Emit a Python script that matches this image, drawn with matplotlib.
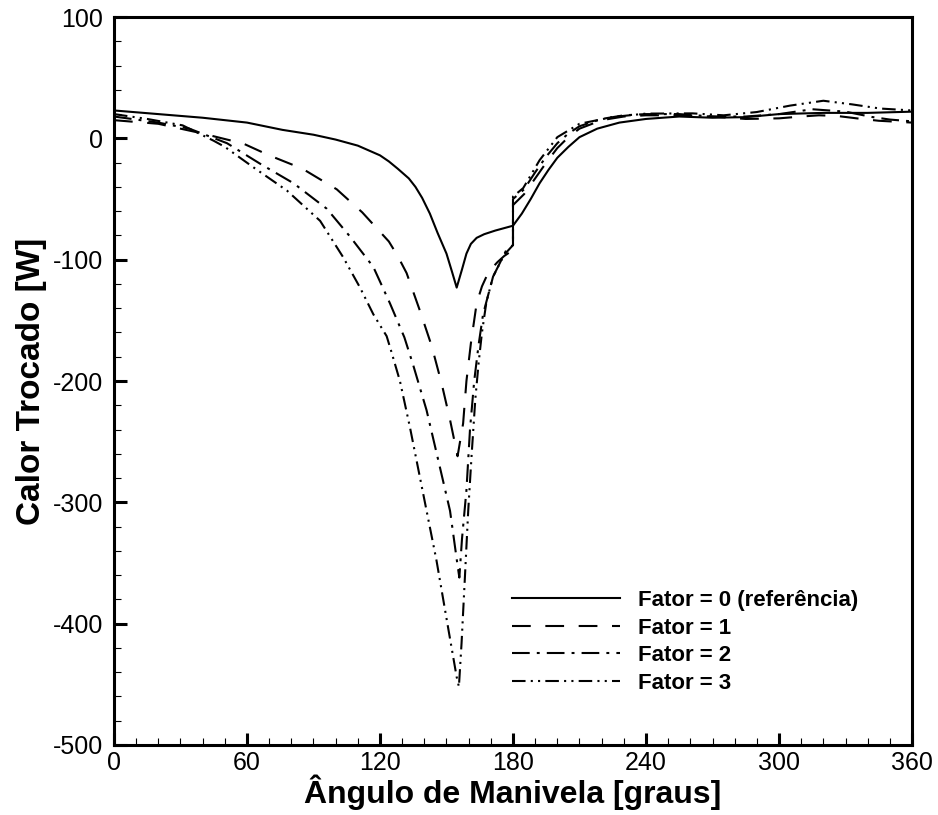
import numpy as np
import matplotlib
matplotlib.use("Agg")
import matplotlib.pyplot as plt
from matplotlib.ticker import MultipleLocator

# crank angle [deg] and heat exchanged [W]
x_f0 = [0, 20, 40, 60, 76, 90, 100, 110, 115, 120, 124, 128, 133, 136, 139, 142.5,
        146, 150, 152.5, 154.6, 157, 159, 161, 163.6, 167, 172, 176, 180, 184, 188,
        192, 196, 200, 205, 210, 218, 228, 240, 255, 270, 285, 300, 320, 340, 360]
y_f0 = [23, 20, 17, 13, 7, 3, -1, -6, -10, -14, -19, -25, -33, -40, -49, -62,
        -78, -95, -110, -123, -108, -95, -87, -82, -79, -76, -74, -72, -62, -50,
        -37, -26, -16, -7, 1, 8, 13, 16, 18, 17, 17.5, 20, 21, 21, 22]

x_f1 = [0, 20, 40, 51, 58, 70, 85, 100.5, 112, 124, 128, 132, 138, 143.3, 147.8, 151.6,
        155, 157.5, 159, 161, 163.6, 166, 168, 170, 173, 176, 180, 180, 185, 190,
        195, 200, 205, 210, 220, 230, 240, 255, 270, 285, 300, 310, 318, 326, 335,
        345, 360]
y_f1 = [15, 12, 4, -1, -4, -14, -25, -42, -61, -85, -97, -111, -142, -171, -202, -232,
        -262, -235, -200, -169, -136, -122, -114, -108, -102, -97, -92, -55, -46, -33,
        -20, -8, 1, 8, 15, 18, 19, 19, 18, 16, 16.5, 18, 19, 18.5, 16.5,
        14.5, 13]

x_f2 = [0, 20, 34, 51, 66, 81, 96, 106.5, 117, 124.5, 131, 135, 141, 146, 151.6, 155,
        155.8, 157, 159, 160.6, 162.5, 164.5, 166.5, 171, 177, 180, 180, 185, 190,
        195, 200, 205, 210, 220, 230, 240, 255, 270, 285, 300, 315, 330, 342, 350, 360]
y_f2 = [18, 13, 8, -4, -21, -37, -58, -81, -106, -136, -164, -187, -224, -263, -307, -352,
        -362, -330, -290, -240, -200, -170, -145, -114, -92, -88, -50, -42, -28,
        -15, -4, 4, 10, 16, 19, 20, 20, 18, 18, 20, 24, 22, 17.6, 15.5, 14]

x_f3 = [0, 15, 31, 45, 50, 63, 78, 93, 103.4, 111, 117, 123, 125, 129, 133.5, 139.5,
        145.5, 150.7, 154.6, 155.6, 156.8, 158.3, 159.8, 161.3, 163, 164.5, 166, 168,
        171, 176, 180, 180, 184.6, 192, 200, 210, 225, 240, 261, 275, 290, 305, 320,
        333, 345.5, 360]
y_f3 = [20, 16, 10.7, -2, -7, -24, -43, -68, -98, -123, -145, -163, -175, -200, -238, -293,
        -348, -403, -444, -452, -416, -362, -307, -262, -215, -185, -160, -135,
        -114, -96, -88, -48, -41, -18, 1, 12, 17.6, 20.4, 20.6, 19, 21.7, 27, 31,
        28, 24.6, 23]

labels = ["Fator = 0 (referência)", "Fator = 1", "Fator = 2", "Fator = 3"]

plt.rcParams["font.family"] = ["Liberation Sans", "DejaVu Sans"]
plt.rcParams["axes.unicode_minus"] = False

fig = plt.figure(figsize=(9.38, 8.15), dpi=100)
ax = fig.add_axes([0.1215, 0.0859, 0.8508, 0.8932])

styles = ["-", (0, (9, 7)), (0, (8.5, 3.4, 1.4, 3.4)), (0, (6.5, 2.5, 1, 2.5, 1, 2.5))]
series = [(x_f0, y_f0), (x_f1, y_f1), (x_f2, y_f2), (x_f3, y_f3)]
for (xs, ys), ls, lab in zip(series, styles, labels):
    ax.plot(xs, ys, color="black", lw=1.5, linestyle=ls, label=lab)

ax.set_xlim(0, 360)
ax.set_ylim(-500, 100)
ax.xaxis.set_major_locator(MultipleLocator(60))
ax.xaxis.set_minor_locator(MultipleLocator(10))
ax.yaxis.set_major_locator(MultipleLocator(100))
ax.yaxis.set_minor_locator(MultipleLocator(20))
ax.tick_params(which="both", direction="in", top=False, right=False,
               labelsize=18)
ax.tick_params(which="major", length=9, width=2.2)
ax.tick_params(axis="y", which="major", pad=8)
ax.tick_params(axis="x", which="major", pad=4)
ax.tick_params(which="minor", length=5, width=0.8)
for sp in ax.spines.values():
    sp.set_linewidth(2.2)

ax.set_xlabel("Ângulo de Manivela [graus]", fontsize=23, fontweight="bold")
ax.xaxis.set_label_coords(0.5, -0.041)
ax.set_ylabel("Calor Trocado [W]", fontsize=24, fontweight="bold", labelpad=4)

leg = ax.legend(loc="upper left", bbox_to_anchor=(0.4987, 0.213), frameon=False,
                borderpad=0, borderaxespad=0,
                handlelength=4.85, handletextpad=0.8, labelspacing=0.3,
                prop={"weight": "bold", "size": 16})

fig.savefig("out.png", dpi=100)
